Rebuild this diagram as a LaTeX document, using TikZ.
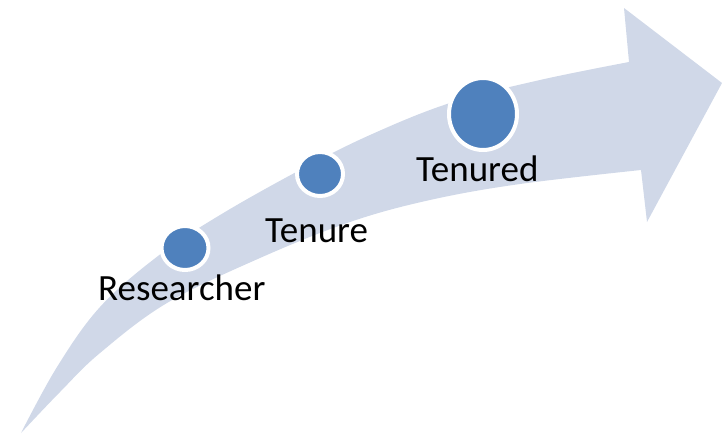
\documentclass[tikz,border=0pt]{standalone}
\usepackage{fontspec}
\setmainfont{Carlito}
\usetikzlibrary{shapes.geometric}
\definecolor{bandcol}{HTML}{D0D8E8}
\definecolor{dotcol}{HTML}{4F81BD}
\begin{document}
\begin{tikzpicture}[x=1pt,y=-1pt,
  dot/.style={ellipse,draw=white,line width=4pt,fill=dotcol,inner sep=0pt},
  lbl/.style={anchor=base west,inner sep=0pt,font=\fontsize{37}{44}\selectfont,text=black}]
\useasboundingbox (0,0) rectangle (722,434);
% curved band with arrow head
\fill[bandcol] plot[smooth,tension=0.6] coordinates {(21,433) (57,367) (100,307) (158,256) (220,215) (300,170) (370,135) (450,103) (540,80) (629,62)}
  -- (624,8) -- (722,83) -- (647,222) -- (641,170)
  -- plot[smooth,tension=0.6] coordinates {(641,170) (520,184) (430,200) (350,222) (260,258) (167,303) (100,353) (60,392) (21,433)} -- cycle;
% milestones
\node[dot,minimum width=47pt,minimum height=44pt] (d1) at (185,248) {};
\node[dot,minimum width=46pt,minimum height=44pt] (d2) at (320,174) {};
\node[dot,minimum width=68pt,minimum height=72pt] (d3) at (483,114) {};
% labels
\node[lbl] (t1) at (98,300) {Researcher};
\node[lbl] (t2) at (265,242) {Tenure};
\node[lbl] (t3) at (416,181) {Tenured};
\end{tikzpicture}
\end{document}
